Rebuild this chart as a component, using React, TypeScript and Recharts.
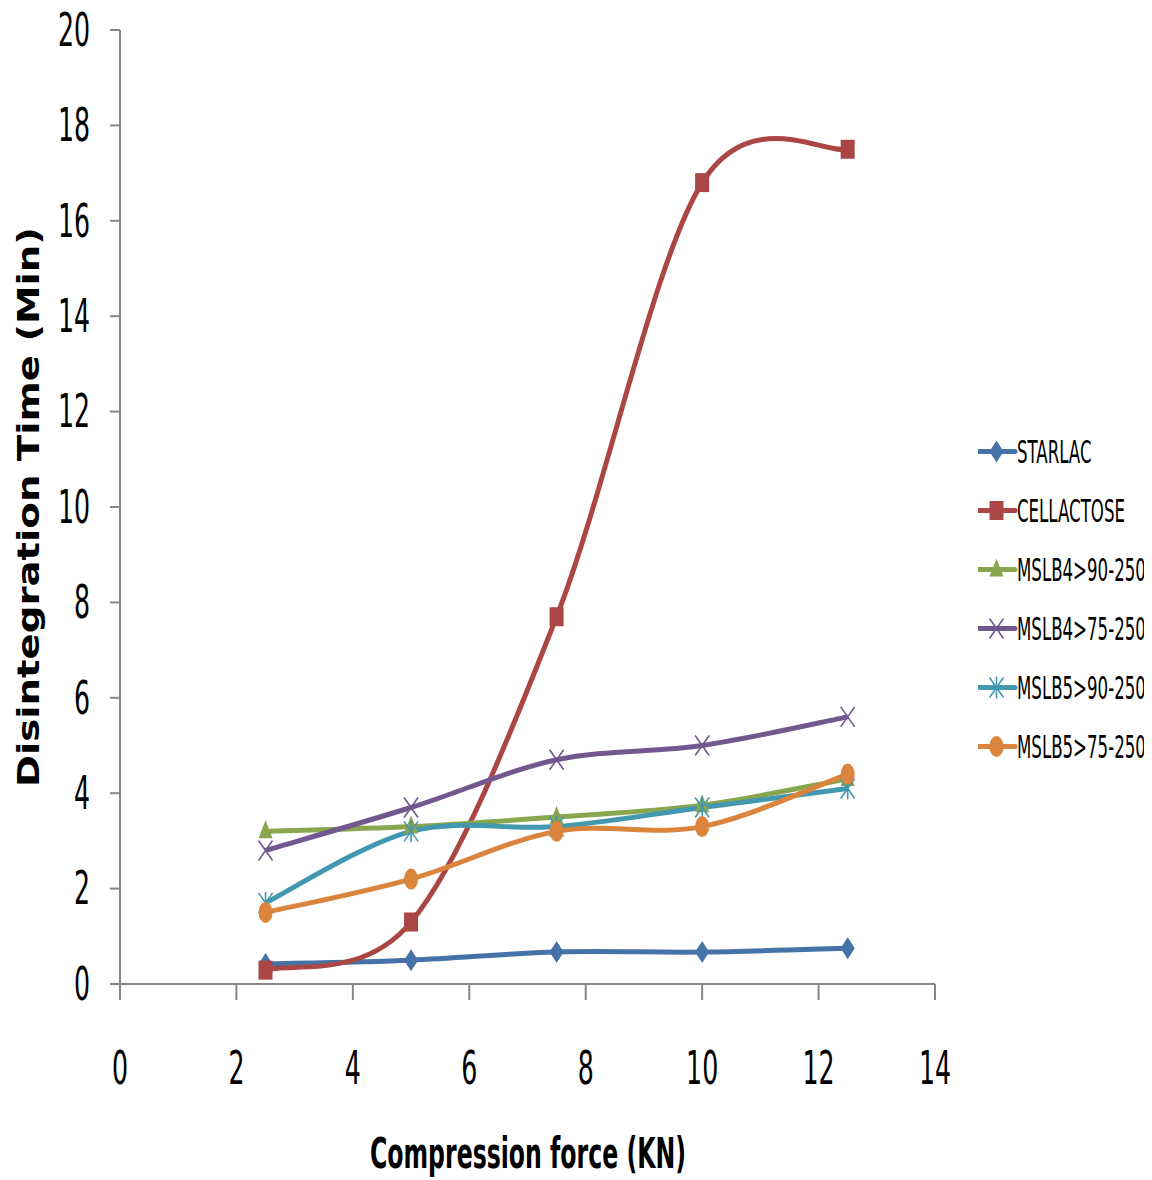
import React from "react";
import { LineChart, Line, XAxis, YAxis } from "recharts";

const force = [2.5, 5, 7.5, 10, 12.5];
const starlac = [0.42, 0.5, 0.67, 0.67, 0.75];
const cellactose = [0.29, 1.3, 7.7, 16.8, 17.5];
const mslb4_90 = [3.2, 3.3, 3.5, 3.75, 4.3];
const mslb4_75 = [2.8, 3.7, 4.7, 5.0, 5.6];
const mslb5_90 = [1.7, 3.2, 3.3, 3.7, 4.1];
const mslb5_75 = [1.5, 2.2, 3.2, 3.3, 4.4];

const xTicks = [0, 2, 4, 6, 8, 10, 12, 14];
const yTicks = [0, 2, 4, 6, 8, 10, 12, 14, 16, 18, 20];

const seriesList = [
  { key: "STARLAC", values: starlac, color: "#4572A7", marker: "diamond" },
  { key: "CELLACTOSE", values: cellactose, color: "#AA4643", marker: "square" },
  { key: "MSLB4>90-250", values: mslb4_90, color: "#89A54E", marker: "triangle" },
  { key: "MSLB4>75-250", values: mslb4_75, color: "#71588F", marker: "x" },
  { key: "MSLB5>90-250", values: mslb5_90, color: "#4198AF", marker: "star" },
  { key: "MSLB5>75-250", values: mslb5_75, color: "#DB843D", marker: "circle" },
];

const data = force.map((f, i) => {
  const row: Record<string, number> = { force: f };
  seriesList.forEach((s) => (row[s.key] = s.values[i]));
  return row;
});

const NARROW = "'Liberation Sans Narrow', 'DejaVu Sans Condensed', 'Arial Narrow', sans-serif";

// Excel-like smoothed line (Catmull-Rom style bezier)
function excelSmooth(context: any) {
  let xs: number[] = [];
  let ys: number[] = [];
  return {
    areaStart() {},
    areaEnd() {},
    lineStart() {
      xs = [];
      ys = [];
    },
    point(x: number, y: number) {
      xs.push(+x);
      ys.push(+y);
    },
    lineEnd() {
      const n = xs.length;
      if (!n) return;
      context.moveTo(xs[0], ys[0]);
      for (let i = 0; i < n - 1; i++) {
        const a = Math.max(i - 1, 0);
        const d = Math.min(i + 2, n - 1);
        const c1x = xs[i] + (xs[i + 1] - xs[a]) / 6;
        const c1y = ys[i] + (ys[i + 1] - ys[a]) / 6;
        const c2x = xs[i + 1] - (xs[d] - xs[i]) / 6;
        const c2y = ys[i + 1] - (ys[d] - ys[i]) / 6;
        context.bezierCurveTo(c1x, c1y, c2x, c2y, xs[i + 1], ys[i + 1]);
      }
    },
  };
}

function Marker({ kind, cx, cy, color }: { kind: string; cx: number; cy: number; color: string }) {
  switch (kind) {
    case "diamond":
      return <path d={`M${cx},${cy - 11} L${cx + 7},${cy} L${cx},${cy + 11} L${cx - 7},${cy} Z`} fill={color} />;
    case "square":
      return <rect x={cx - 7} y={cy - 9.5} width={14} height={19} fill={color} />;
    case "triangle":
      return <path d={`M${cx},${cy - 11} L${cx + 7},${cy + 7} L${cx - 7},${cy + 7} Z`} fill={color} />;
    case "x":
      return (
        <g stroke={color} strokeWidth={1.6}>
          <line x1={cx - 7} y1={cy - 10} x2={cx + 7} y2={cy + 10} />
          <line x1={cx - 7} y1={cy + 10} x2={cx + 7} y2={cy - 10} />
        </g>
      );
    case "star":
      return (
        <g stroke={color} strokeWidth={1.6}>
          <line x1={cx - 7} y1={cy - 10} x2={cx + 7} y2={cy + 10} />
          <line x1={cx - 7} y1={cy + 10} x2={cx + 7} y2={cy - 10} />
          <line x1={cx} y1={cy - 11} x2={cx} y2={cy + 11} />
        </g>
      );
    default:
      return <ellipse cx={cx} cy={cy} rx={7} ry={10.5} fill={color} />;
  }
}

const XTick = (props: any) => {
  const { x, y, payload } = props;
  return (
    <text transform={`translate(${x},${y}) scale(0.85,1.4)`} textAnchor="middle" dominantBaseline="central" fontFamily={NARROW} fontSize={33} fill="#000">
      {payload.value}
    </text>
  );
};

const YTick = (props: any) => {
  const { x, y, payload } = props;
  return (
    <text transform={`translate(${x},${y}) scale(0.85,1.4)`} textAnchor="end" dominantBaseline="central" fontFamily={NARROW} fontSize={33} fill="#000">
      {payload.value}
    </text>
  );
};

const LegendBox = () => (
  <div style={{ position: "absolute", left: 970, top: 414, width: 182 }}>
    {seriesList.map((s) => (
      <svg key={s.key} width={182} height={59} style={{ display: "block" }}>
        <line x1={0} y1={29.5} x2={37} y2={29.5} stroke={s.color} strokeWidth={5} strokeLinecap="round" />
        <Marker kind={s.marker} cx={18.5} cy={29.5} color={s.color} />
        <text transform="translate(39,29.5) scale(0.88,1.55)" dominantBaseline="central" fontFamily={NARROW} fontSize={21} fill="#000">
          {s.key}
        </text>
      </svg>
    ))}
  </div>
);

export default function App() {
  return (
    <div style={{ position: "relative", width: 1144, height: 1172 }}>
      <LineChart width={1144} height={1172} data={data} margin={{ top: 22, right: 217, bottom: 0, left: 0 }} style={{ overflow: "visible" }}>
        <XAxis
          dataKey="force"
          type="number"
          domain={[0, 14]}
          ticks={xTicks}
          height={196}
          stroke="#868686"
          strokeWidth={2}
          tickSize={16}
          tickMargin={68}
          tick={<XTick />}
          label={{
            content: () => (
              <text x={520} y={1145} transform="translate(520,1145) scale(1,1.35) translate(-520,-1145)" textAnchor="middle" dominantBaseline="central" fontFamily={NARROW} fontWeight="bold" fontSize={32} textLength={316} lengthAdjust="spacingAndGlyphs" fill="#000">
                Compression  force (KN)
              </text>
            ),
          }}
        />
        <YAxis
          type="number"
          domain={[0, 20]}
          ticks={yTicks}
          width={112}
          stroke="#868686"
          strokeWidth={2}
          tickSize={10}
          tickMargin={20}
          tick={<YTick />}
          label={{
            content: () => (
              <text x={20} y={499} transform="rotate(-90,20,499)" textAnchor="middle" dominantBaseline="central" fontFamily="'DejaVu Sans', Verdana, sans-serif" fontWeight="bold" fontSize={30} textLength={560} lengthAdjust="spacingAndGlyphs" fill="#000">
                Disintegration  Time (Min)
              </text>
            ),
          }}
        />
        {seriesList.map((s) => (
          <Line
            key={s.key}
            dataKey={s.key}
            name={s.key}
            type={excelSmooth as any}
            stroke={s.color}
            strokeWidth={5}
            isAnimationActive={false}
            dot={(p: any) => <Marker key={`${s.key}-${p.index}`} kind={s.marker} cx={p.cx} cy={p.cy} color={s.color} />}
            activeDot={false}
          />
        ))}
      </LineChart>
      <LegendBox />
    </div>
  );
}
